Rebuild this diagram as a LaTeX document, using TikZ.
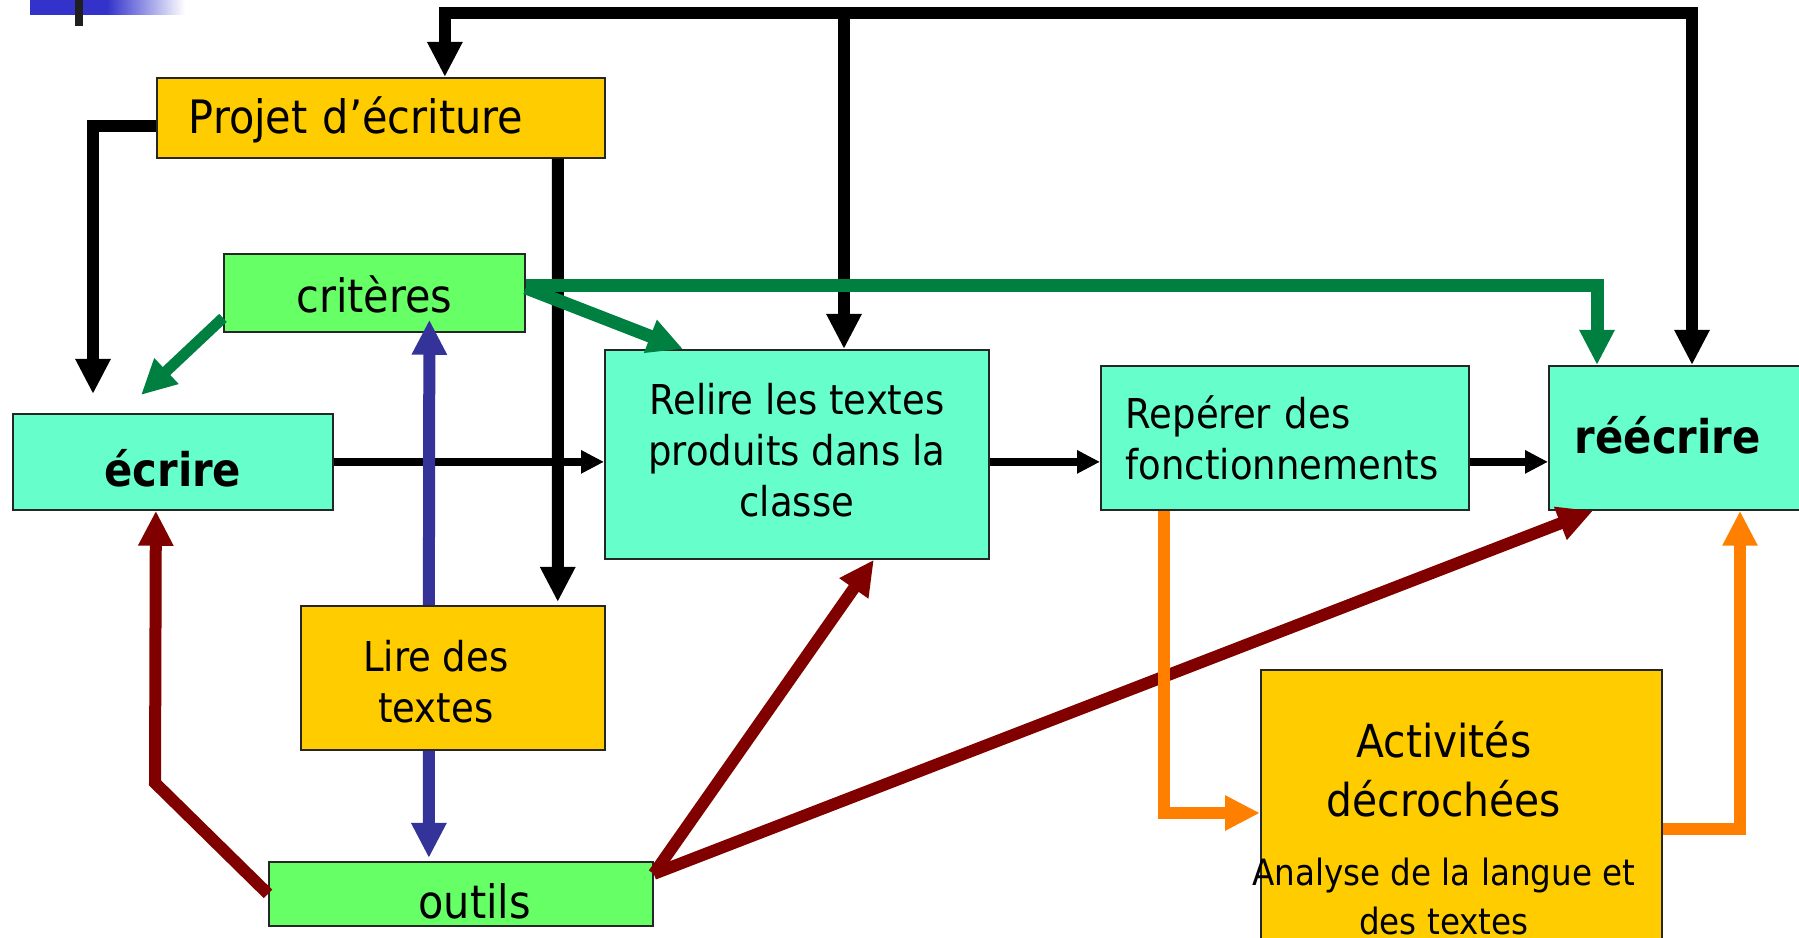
\documentclass[tikz,border=0pt]{standalone}
\usepackage{fontspec}
\setmainfont{DejaVu Sans Condensed}
\usepackage{tikz}
\usetikzlibrary{arrows.meta}

\definecolor{jaune}{HTML}{FFCC00}
\definecolor{aqua}{HTML}{66FFCC}
\definecolor{vert}{HTML}{66FF66}
\definecolor{vertfonce}{HTML}{008040}
\definecolor{bleu}{HTML}{333399}
\definecolor{bordeaux}{HTML}{800000}
\definecolor{orangeA}{HTML}{FF8000}
\definecolor{barre}{HTML}{3333CC}

\begin{document}
\begin{tikzpicture}[
  x=0.1mm, y=-0.1mm,
  every node/.style={font=\fontsize{13.1}{16}\selectfont},
  box/.style={rectangle, draw=black!85, line width=0.5pt, anchor=north west, inner sep=0pt},
  mid/.style={font=\fontsize{11.7}{14.5}\selectfont},
  gras/.style={font=\fontsize{13.2}{16}\selectfont\bfseries},
  fleche/.style={line width=1.2mm, -{Triangle[length=3.5mm,width=3.3mm]}},
  fine/.style={line width=0.8mm, -{Triangle[length=2.3mm,width=2.2mm]}}
]
  \useasboundingbox (0,0) rectangle (1799,938);

  % Slide corner mark
  \fill[barre] (30,0) rectangle (107,15);
  \shade[left color=barre, right color=white] (107,0) rectangle (185,15);
  \fill[black!88] (75,0) rectangle (83,26);

  % Boxes
  \node[box, fill=jaune, minimum width=44.8mm, minimum height=8mm,
        text width=38.4mm, inner xsep=3.2mm, align=left,
        text height=3.2mm, text depth=0pt] (projet) at (156,77) {Projet d’écriture};
  \node[box, fill=vert, minimum width=30.1mm, minimum height=7.8mm,
        text height=4mm, text depth=0pt] (criteres) at (223,253) {critères};
  \node[box, fill=aqua, gras, minimum width=32mm, minimum height=9.6mm,
        text height=5mm, text depth=0pt] (ecrire) at (12,413) {écrire};
  \node[box, fill=aqua, mid, minimum width=38.4mm, minimum height=20.9mm,
        align=center, text depth=0.9mm] (relire) at (604,349) {Relire les textes\\produits dans la\\classe};
  \node[box, fill=aqua, mid, minimum width=36.8mm, minimum height=14.4mm,
        text width=31.8mm, inner xsep=2.5mm, align=left] (reperer) at (1100,365)
        {Repérer des\\fonctionnements};
  \node[box, fill=aqua, gras, minimum width=28.2mm, minimum height=14.4mm,
        text width=23mm, inner xsep=2.6mm, align=left,
        text height=3.2mm, text depth=0pt] (reecrire) at (1548,365) {réécrire};
  \node[box, fill=jaune, mid, minimum width=30.4mm, minimum height=14.4mm,
        align=center, text height=9mm] (lire) at (300,605) {\hspace*{-3.4mm}Lire des\\\hspace*{-3.4mm}textes};
  \node[box, fill=vert, minimum width=38.4mm, minimum height=6.4mm,
        text height=5mm, text depth=0pt] (outils) at (268,861) {\hspace*{2.8mm}outils};
  \node[box, fill=jaune, minimum width=40.1mm, minimum height=31.6mm, align=center,
        font=\fontsize{12.9}{16.8}\selectfont] (activites) at (1260,669)
        {\hspace*{-3.5mm}Activités\\
         \hspace*{-3.5mm}décrochées\\[3.1pt]
         \fontsize{10.3}{12.8}\selectfont\hspace*{-3.5mm}Analyse de la langue et\\[-3pt]
         \fontsize{10.3}{12.8}\selectfont\hspace*{-3.5mm}des textes};

  % Black arrows from the top
  \coordinate (haut) at (844,13);
  \draw[fleche] (haut) -| ([xshift=6.4mm]projet.north);
  \draw[fleche] (haut) -- (haut |- relire.north);
  \draw[fleche] (haut) -| ([xshift=14.4mm]reecrire.north west);

  % Projet towards écrire and Lire
  \draw[fleche] ([yshift=-0.8mm]projet.west) -| ([xshift=8.1mm,yshift=1.9mm]ecrire.north west);
  \draw[fleche] ([xshift=-4.8mm]projet.south east) -- ([xshift=-4.8mm,yshift=0.3mm]lire.north east);

  % Main chain
  \draw[fine] (ecrire.east) -- (ecrire.east -| relire.west);
  \draw[fine] (ecrire.east -| relire.east) -- (ecrire.east -| reperer.west);
  \draw[fine] (ecrire.east -| reperer.east) -- (ecrire.east -| reecrire.west);

  % Blue arrows through Lire des textes
  \draw[fleche, bleu] ([xshift=-2.4mm]lire.north) -- ([xshift=5.5mm,yshift=1.3mm]criteres.south);
  \draw[fleche, bleu] ([xshift=-2.4mm]lire.south) -- ([xshift=-3.2mm,yshift=0.3mm]outils.north);

  % Green arrows from critères
  \draw[fleche, vertfonce, line width=1.3mm] ([yshift=0.7mm]criteres.east) -| ([xshift=4.9mm]reecrire.north west);
  \draw[fleche, vertfonce, line width=1.3mm] ([yshift=0.5mm]criteres.east) -- ([xshift=7.9mm]relire.north west);
  \draw[fleche, vertfonce, line width=1.1mm] ([yshift=-2.5mm]criteres.west) -- ([xshift=12.9mm,yshift=1.8mm]ecrire.north west);

  % Dark red arrows from outils
  \draw[fleche, bordeaux] (outils.west) -- ++(-113,-111) -- ([xshift=-1.7mm]ecrire.south);
  \draw[fleche, bordeaux] ([yshift=2mm]outils.east) -- ([xshift=7.7mm]relire.south);
  \draw[fleche, bordeaux] ([yshift=2mm]outils.east) -- ([xshift=4.5mm]reecrire.south west);

  % Orange arrows round Activités
  \draw[fleche, orangeA] ([xshift=6.4mm]reperer.south west) |- ([yshift=-14.4mm]activites.north west);
  \draw[fleche, orangeA] ([yshift=-16mm]activites.north east) -| ([xshift=19.2mm]reecrire.south west);
\end{tikzpicture}
\end{document}
